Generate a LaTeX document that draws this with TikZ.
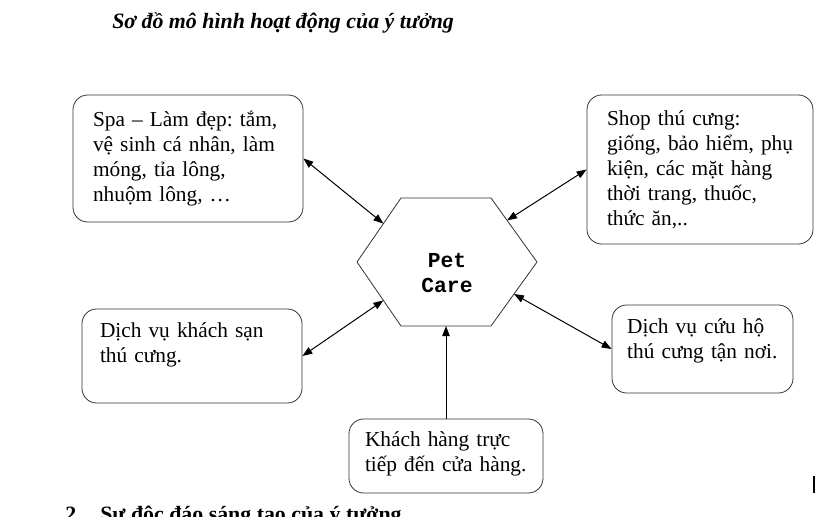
\documentclass[tikz,border=0pt]{standalone}
\usepackage{fontspec}
\setmainfont{Liberation Serif}
\setmonofont{Liberation Mono}
\usetikzlibrary{arrows.meta,calc}
\frenchspacing

\begin{document}
\begin{tikzpicture}[x=0.75pt, y=-0.75pt, >={Triangle[length=7.5pt,width=5.5pt]},
			box/.style={draw=black!80, line width=0.6pt, rounded corners=11pt, align=left, font=\fontsize{16}{18.75}\selectfont},
			hexa/.style={draw=black!80, line width=0.6pt},
			hub/.style={align=center, font=\ttfamily\bfseries\fontsize{16}{18.75}\selectfont},
			heading/.style={inner sep=0pt, anchor=base west, font=\bfseries\fontsize{16.4}{20}\selectfont},
			title/.style={heading, font=\bfseries\itshape\fontsize{16.4}{20}\selectfont}]
			\useasboundingbox (0,0) rectangle (822,517);
			\node[title] (title) at (112,29) {Sơ đồ mô hình hoạt động của ý tưởng};
			% hexagon in the middle
			\coordinate (hl) at (357,262);
			\coordinate (htl) at (401,198);
			\coordinate (htr) at (491,198);
			\coordinate (hr) at (537,262);
			\coordinate (hbr) at (491,326);
			\coordinate (hbl) at (401,326);
			\draw[hexa] (hl) -- (htl) -- (htr) -- (hr) -- (hbr) -- (hbl) -- cycle;
			\node[hub] (pet) at (447,272.5) {Pet\\Care};
			% boxes round it
			\node[box, minimum width=172.5pt, minimum height=95.25pt, text width=142.5pt] (spa) at (188,158.5) {Spa – Làm đẹp: tắm,\\vệ sinh cá nhân, làm\\móng, tỉa lông,\\nhuộm lông, …};
			\node[box, minimum width=169.5pt, minimum height=111.75pt, text width=139.5pt] (shop) at (700,169.5) {Shop thú cưng:\\\mbox{giống, bảo hiểm, phụ}\\kiện, các mặt hàng\\thời trang, thuốc,\\thức ăn,..};
			\node[box, minimum width=165pt, minimum height=70.5pt, text width=138pt, text depth=39pt] (hotel) at (192,356) {Dịch vụ khách sạn\\thú cưng.};
			\node[box, minimum width=135.75pt, minimum height=66pt, text width=113pt, text depth=35pt] (rescue) at (702.5,349) {Dịch vụ cứu hộ\\\mbox{thú cưng tận nơi.}};
			\node[box, minimum width=145.5pt, minimum height=55.5pt, text width=121.5pt, text depth=26pt] (visit) at (446,456) {Khách hàng trực\\tiếp đến cửa hàng.};
			% arrow ends on the hexagon
			\coordinate (spaend) at ($(hl)!0.6!(htl)$);
			\coordinate (shopend) at ($(htr)!0.35!(hr)$);
			\coordinate (hotelend) at ($(hl)!0.6!(hbl)$);
			\coordinate (rescueend) at ($(hr)!0.5!(hbr)$);
			\coordinate (visitend) at ($(hbl)!0.5!(hbr)$);
			\begin{scope}[line width=0.75pt, <->]
				\draw (spa.east) -- (spaend);
				\draw (shop.west) -- (shopend);
				\draw (hotel.east) -- (hotelend);
				\draw (rescue.west) -- (rescueend);
				\draw[->] (visit.north) -- (visitend);
			\end{scope}
			\node[heading] (secnum) at (65,521) {2};
			\node[heading] (sectitle) at (100,521) {Sự độc đáo sáng tạo của ý tưởng};
			\draw[line width=1pt] (814,476) -- (814,493);
		\end{tikzpicture}
\end{document}
